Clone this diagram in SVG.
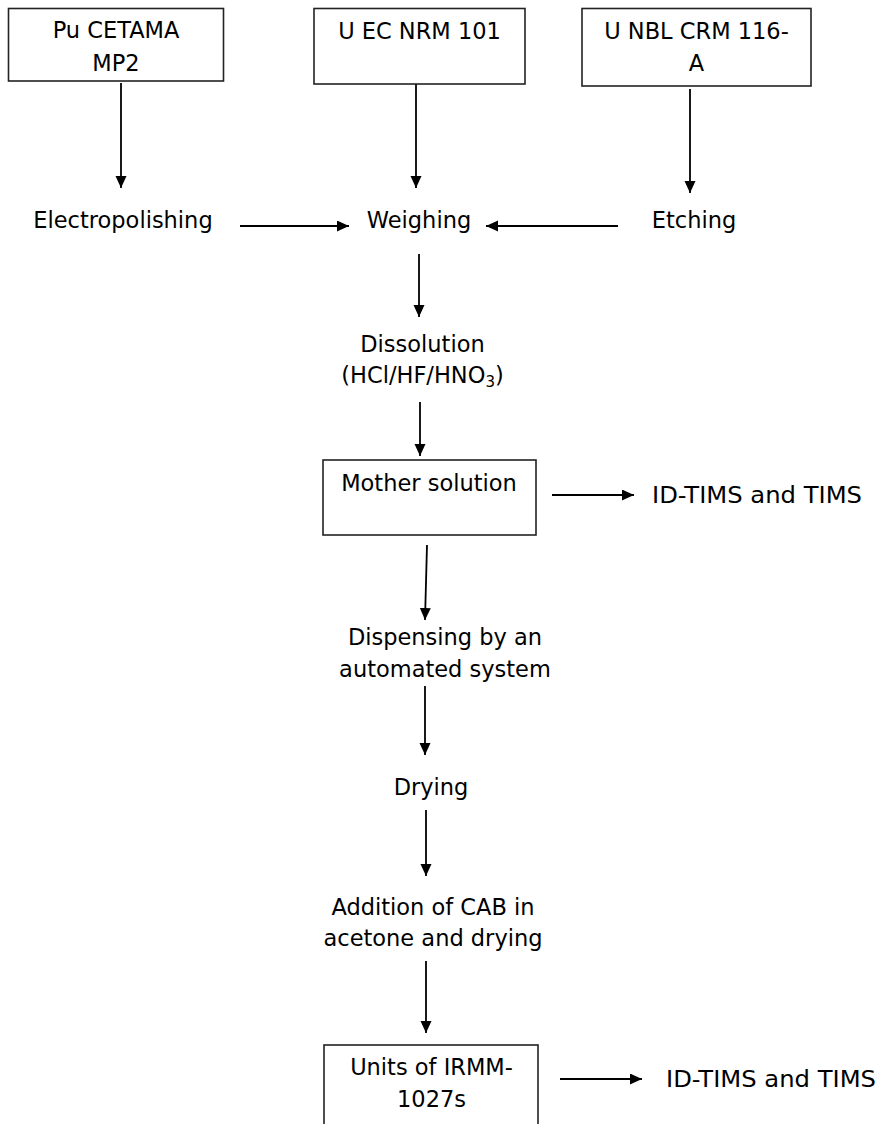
<svg xmlns="http://www.w3.org/2000/svg" width="882" height="1124" viewBox="0 0 882 1124">
<defs>
<marker id="ah" markerUnits="userSpaceOnUse" markerWidth="13" markerHeight="12" refX="12" refY="5.5" orient="auto">
<path d="M0,0 L12,5.5 L0,11 z" fill="#000"/>
</marker>
<style>
.box{fill:#fff;stroke:#222;stroke-width:1.6}
.t{font-family:"DejaVu Sans","Noto Sans",sans-serif;font-size:22.5px;fill:#000}
.c{text-anchor:middle}
.ln{stroke:#000;stroke-width:1.8;fill:none;marker-end:url(#ah)}
</style>
</defs>
<rect width="882" height="1124" fill="#fff"/>
<g id="connectors">
<line class="ln" x1="121" y1="83" x2="121" y2="188"/>
<line class="ln" x1="416" y1="84" x2="416" y2="188"/>
<line class="ln" x1="690" y1="89" x2="690" y2="193"/>
<line class="ln" x1="240" y1="226" x2="349" y2="226"/>
<line class="ln" x1="618" y1="226" x2="486" y2="226"/>
<line class="ln" x1="419" y1="254" x2="419" y2="317"/>
<line class="ln" x1="420" y1="402" x2="420" y2="456"/>
<line class="ln" x1="552" y1="495" x2="634" y2="495"/>
<line class="ln" x1="427" y1="545" x2="425" y2="620"/>
<line class="ln" x1="425" y1="686" x2="425" y2="755"/>
<line class="ln" x1="426" y1="810" x2="426" y2="876"/>
<line class="ln" x1="426" y1="961" x2="426" y2="1033"/>
<line class="ln" x1="560" y1="1079" x2="642" y2="1079"/>
</g>
<g id="pu-cetama">
<rect class="box" x="8.5" y="8.5" width="215" height="72.5"/>
<text class="t c" x="116" y="38">Pu CETAMA</text>
<text class="t c" x="116" y="71">MP2</text>
</g>
<g id="u-ec-nrm">
<rect class="box" x="314" y="8.5" width="211" height="75.5"/>
<text class="t c" x="419.5" y="39">U EC NRM 101</text>
</g>
<g id="u-nbl-crm">
<rect class="box" x="582" y="8.5" width="229" height="77.5"/>
<text class="t c" x="696.5" y="39">U NBL CRM 116-</text>
<text class="t c" x="696.5" y="71">A</text>
</g>
<g id="electropolishing"><text class="t c" x="123" y="228">Electropolishing</text></g>
<g id="weighing"><text class="t c" x="419" y="228">Weighing</text></g>
<g id="etching"><text class="t c" x="694" y="228">Etching</text></g>
<g id="dissolution">
<text class="t c" x="422.5" y="352">Dissolution</text>
<text class="t c" x="422.5" y="383">(HCl/HF/HNO<tspan font-size="15" dy="4">3</tspan><tspan dy="-4">)</tspan></text>
</g>
<g id="mother-solution">
<rect class="box" x="323" y="460" width="213" height="75"/>
<text class="t c" x="429" y="491">Mother solution</text>
</g>
<g id="tims-1"><text class="t" x="652" y="503" textLength="210" lengthAdjust="spacingAndGlyphs">ID-TIMS and TIMS</text></g>
<g id="dispensing">
<text class="t c" x="445" y="645">Dispensing by an</text>
<text class="t c" x="445" y="677">automated system</text>
</g>
<g id="drying"><text class="t c" x="431" y="795">Drying</text></g>
<g id="addition-cab">
<text class="t c" x="433" y="915">Addition of CAB in</text>
<text class="t c" x="433" y="946">acetone and drying</text>
</g>
<g id="units-irmm">
<rect class="box" x="324" y="1045" width="214" height="90"/>
<text class="t c" x="431.5" y="1075">Units of IRMM-</text>
<text class="t c" x="431.5" y="1107">1027s</text>
</g>
<g id="tims-2"><text class="t" x="666" y="1087" textLength="210" lengthAdjust="spacingAndGlyphs">ID-TIMS and TIMS</text></g>
</svg>
